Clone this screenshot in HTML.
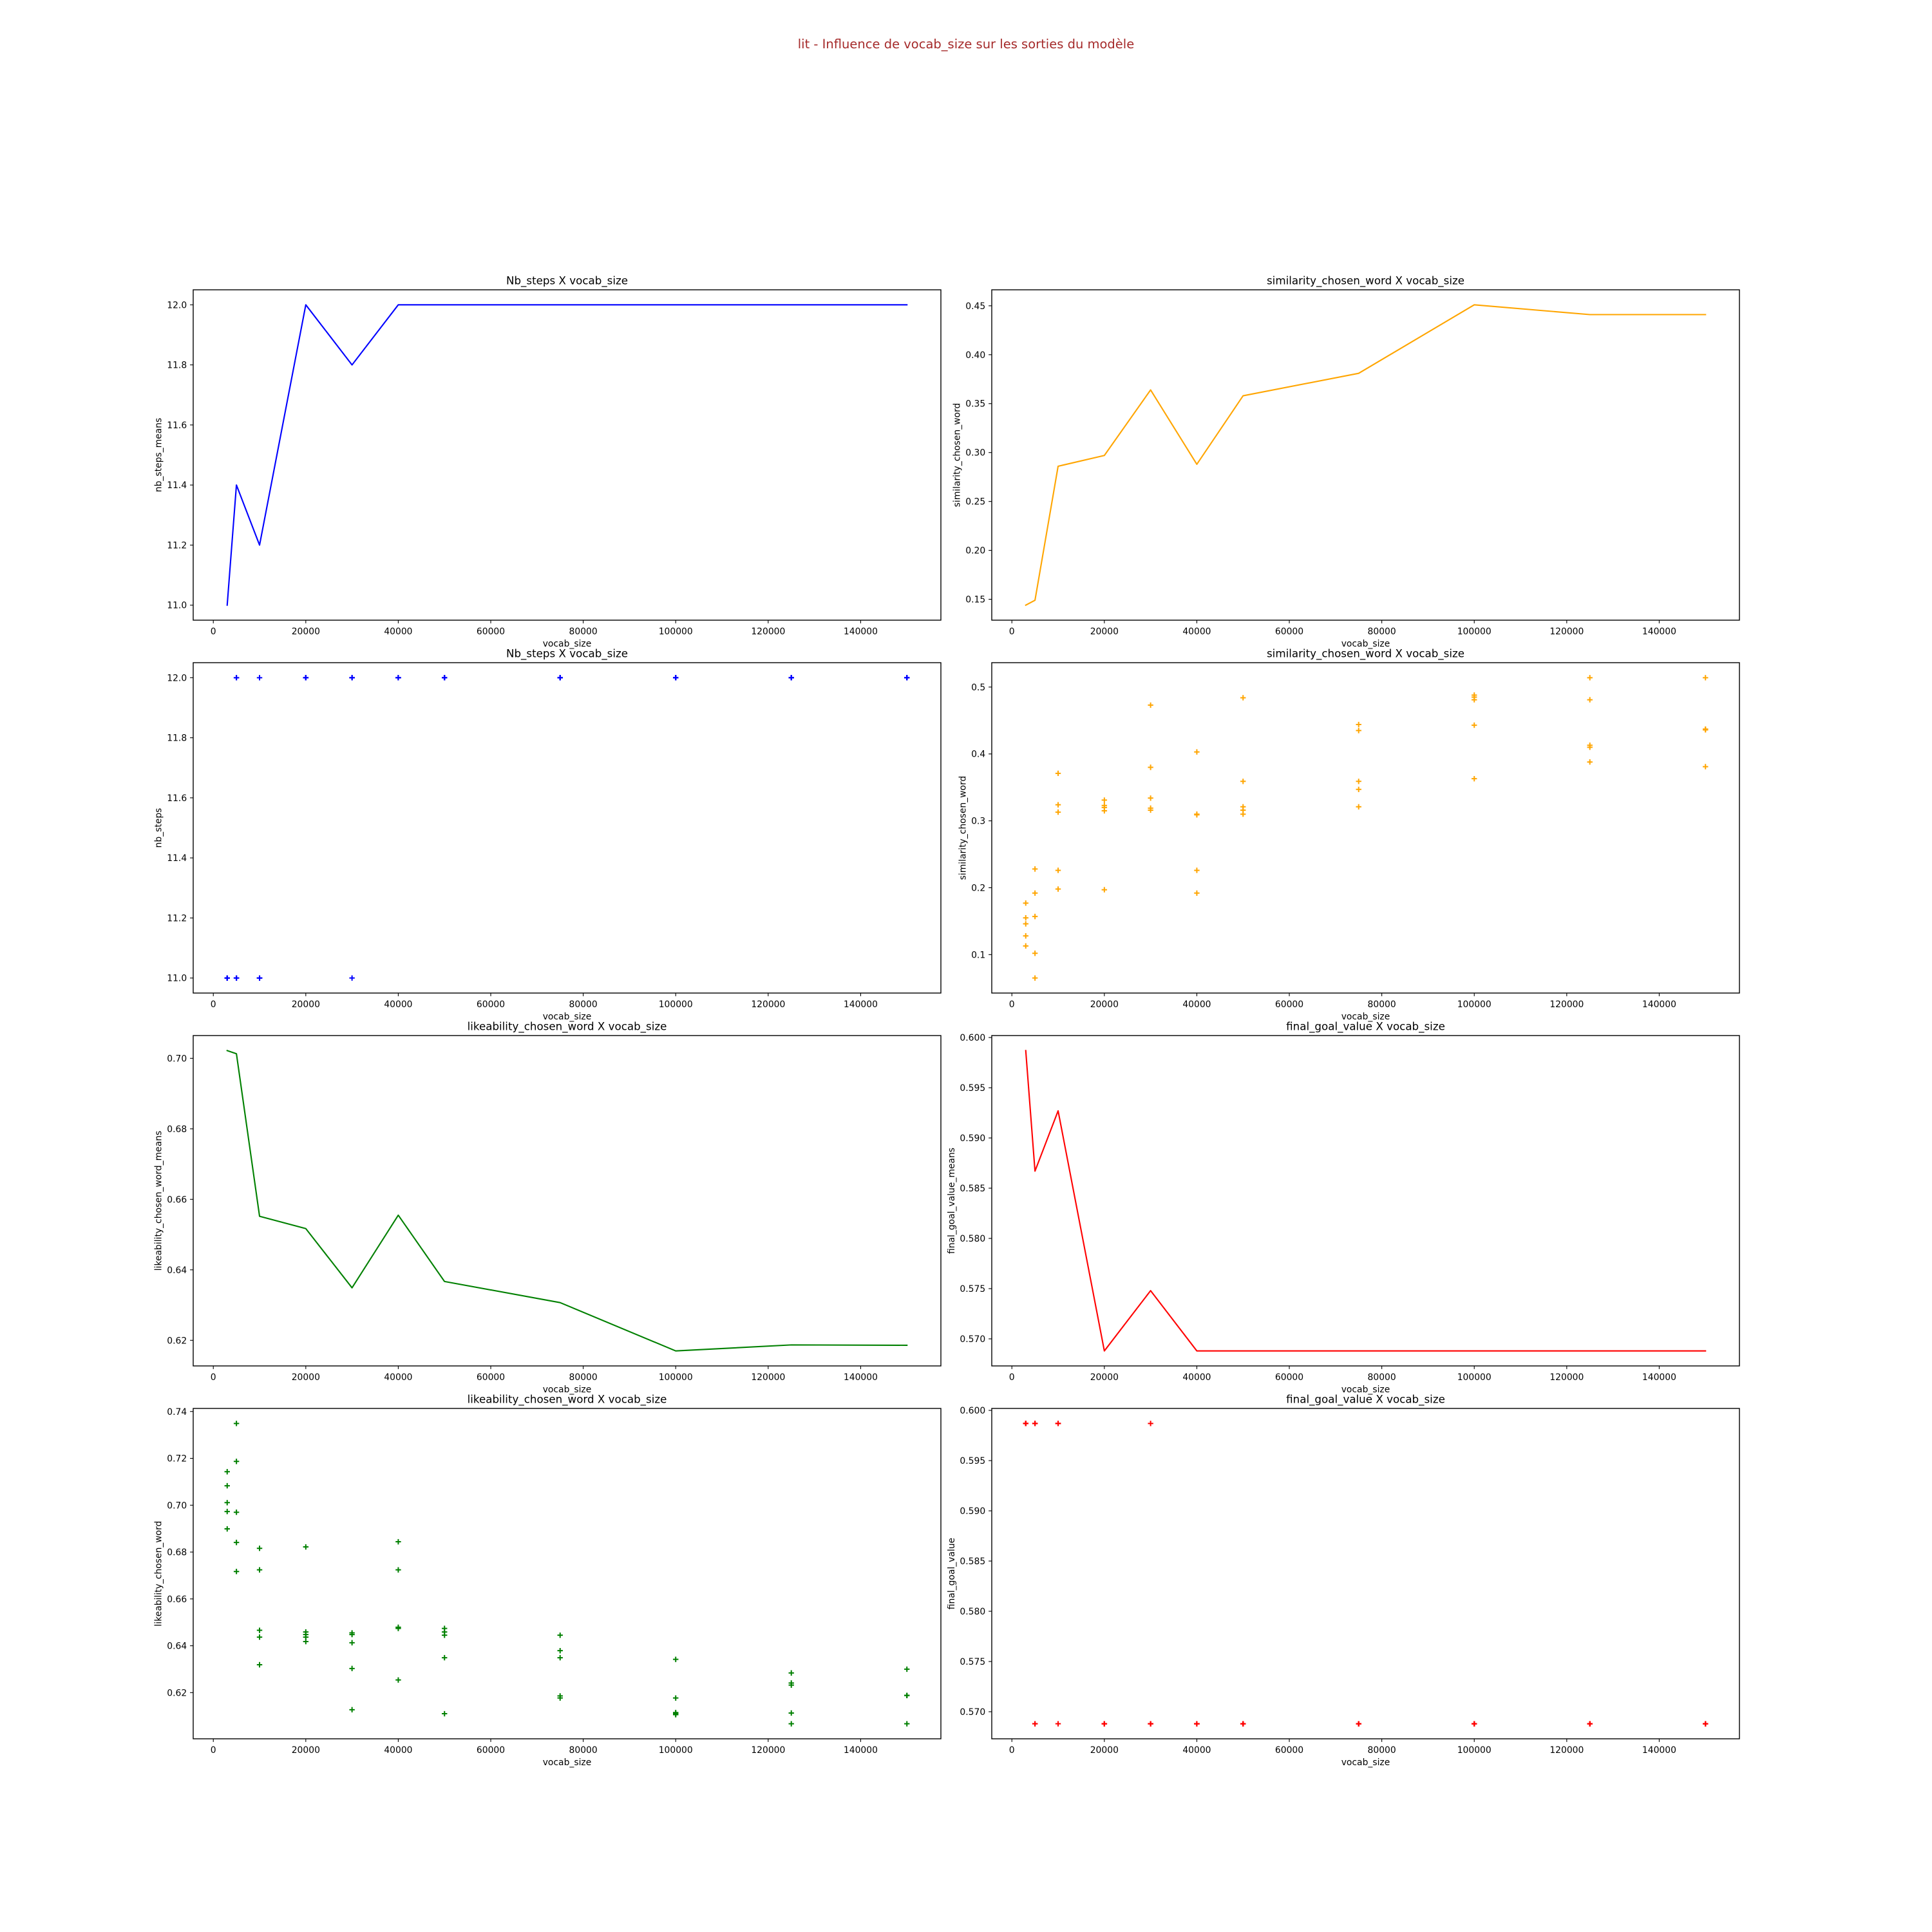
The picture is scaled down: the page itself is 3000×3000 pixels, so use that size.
<!DOCTYPE html>
<html><head><meta charset="utf-8"><style>
html,body{margin:0;padding:0;background:#fff;}
svg{display:block;font-family:"DejaVu Sans","Liberation Sans",sans-serif;}
</style></head><body>
<svg id="fig" width="3000" height="3000" viewBox="0 0 3000 3000" xmlns="http://www.w3.org/2000/svg">
<rect width="3000" height="3000" fill="#fff"/>
<text x="1500" y="75" text-anchor="middle" font-size="19.5" fill="#a52a2a">lit - Influence de vocab_size sur les sorties du modèle</text>
</svg>
<script>
const vocabSizes=[3000,5000,10000,20000,30000,40000,50000,75000,100000,125000,150000];
const xTicks=[0,20000,40000,60000,80000,100000,120000,140000];
const nbStepsMeans=[11.0,11.4,11.2,12.0,11.8,12.0,12.0,12.0,12.0,12.0,12.0];
const similarityMeans=[0.144,0.149,0.286,0.297,0.364,0.288,0.358,0.381,0.451,0.441,0.441];
const likeabilityMeans=[0.7022,0.7013,0.6552,0.6517,0.6349,0.6555,0.6367,0.6307,0.6170,0.6187,0.6186];
const finalGoalMeans=[0.5987,0.5867,0.5927,0.5688,0.5748,0.5688,0.5688,0.5688,0.5688,0.5688,0.5688];
const nbStepsRuns=[[11,11,11,11,11],[11,11,11,12,12],[11,11,11,11,12],[12,12,12,12,12],[11,12,12,12,12],[12,12,12,12,12],[12,12,12,12,12],[12,12,12,12,12],[12,12,12,12,12],[12,12,12,12,12],[12,12,12,12,12]];
const similarityRuns=[[0.177,0.155,0.146,0.128,0.113],[0.228,0.192,0.157,0.102,0.065],[0.371,0.324,0.313,0.226,0.198],[0.331,0.323,0.320,0.315,0.197],[0.473,0.380,0.334,0.319,0.316],[0.403,0.310,0.309,0.226,0.192],[0.484,0.359,0.321,0.316,0.310],[0.444,0.435,0.359,0.347,0.321],[0.488,0.485,0.481,0.443,0.363],[0.514,0.481,0.413,0.410,0.388],[0.514,0.437,0.437,0.436,0.381]];
const likeabilityRuns=[[0.7143,0.7083,0.7011,0.6973,0.6899],[0.7349,0.7187,0.6970,0.6841,0.6717],[0.6816,0.6724,0.6466,0.6437,0.6319],[0.6822,0.6459,0.6448,0.6437,0.6418],[0.6455,0.6448,0.6413,0.6303,0.6127],[0.6844,0.6724,0.6479,0.6474,0.6254],[0.6474,0.6459,0.6445,0.6349,0.6110],[0.6445,0.6379,0.6349,0.6186,0.6177],[0.6342,0.6177,0.6115,0.6110,0.6106],[0.6284,0.6241,0.6232,0.6113,0.6067],[0.6300,0.6188,0.6188,0.6188,0.6067]];
const finalGoalRuns=[[0.5987,0.5987,0.5987,0.5987,0.5987],[0.5987,0.5987,0.5987,0.5688,0.5688],[0.5987,0.5987,0.5987,0.5987,0.5688],[0.5688,0.5688,0.5688,0.5688,0.5688],[0.5987,0.5688,0.5688,0.5688,0.5688],[0.5688,0.5688,0.5688,0.5688,0.5688],[0.5688,0.5688,0.5688,0.5688,0.5688],[0.5688,0.5688,0.5688,0.5688,0.5688],[0.5688,0.5688,0.5688,0.5688,0.5688],[0.5688,0.5688,0.5688,0.5688,0.5688],[0.5688,0.5688,0.5688,0.5688,0.5688]];
const nbTicks=["11.0","11.2","11.4","11.6","11.8","12.0"];
const simLineTicks=["0.15","0.20","0.25","0.30","0.35","0.40","0.45"];
const simScatTicks=["0.1","0.2","0.3","0.4","0.5"];
const likLineTicks=["0.62","0.64","0.66","0.68","0.70"];
const likScatTicks=["0.62","0.64","0.66","0.68","0.70","0.72","0.74"];
const finalTicks=["0.570","0.575","0.580","0.585","0.590","0.595","0.600"];

const NS="http://www.w3.org/2000/svg";
const svg=document.getElementById('fig');
function mk(tag,attrs,parent){const e=document.createElementNS(NS,tag);for(const k in attrs)e.setAttribute(k,attrs[k]);(parent||svg).appendChild(e);return e;}
const COLX=[300,1540], ROWY=[450,1029,1608,2187], W=1161, H=513;
const charts=[
 {name:'nb-steps-means',col:0,row:0,title:'Nb_steps X vocab_size',ylabel:'nb_steps_means',color:'#0000ff',type:'line',vals:nbStepsMeans,ticks:nbTicks},
 {name:'similarity-means',col:1,row:0,title:'similarity_chosen_word X vocab_size',ylabel:'similarity_chosen_word',color:'#ffa500',type:'line',vals:similarityMeans,ticks:simLineTicks},
 {name:'nb-steps-runs',col:0,row:1,title:'Nb_steps X vocab_size',ylabel:'nb_steps',color:'#0000ff',type:'scatter',vals:nbStepsRuns,ticks:nbTicks},
 {name:'similarity-runs',col:1,row:1,title:'similarity_chosen_word X vocab_size',ylabel:'similarity_chosen_word',color:'#ffa500',type:'scatter',vals:similarityRuns,ticks:simScatTicks},
 {name:'likeability-means',col:0,row:2,title:'likeability_chosen_word X vocab_size',ylabel:'likeability_chosen_word_means',color:'#008000',type:'line',vals:likeabilityMeans,ticks:likLineTicks},
 {name:'final-goal-means',col:1,row:2,title:'final_goal_value X vocab_size',ylabel:'final_goal_value_means',color:'#ff0000',type:'line',vals:finalGoalMeans,ticks:finalTicks},
 {name:'likeability-runs',col:0,row:3,title:'likeability_chosen_word X vocab_size',ylabel:'likeability_chosen_word',color:'#008000',type:'scatter',vals:likeabilityRuns,ticks:likScatTicks},
 {name:'final-goal-runs',col:1,row:3,title:'final_goal_value X vocab_size',ylabel:'final_goal_value',color:'#ff0000',type:'scatter',vals:finalGoalRuns,ticks:finalTicks}
];
function textW(s){let w=0;for(const c of s)w+=(c==='.')?4.42:8.85;return w;}
charts.forEach(c=>{
 const L=COLX[c.col], T=ROWY[c.row];
 const g=mk('g',{});
 
 
 const xmin0=Math.min(...vocabSizes), xmax0=Math.max(...vocabSizes), xr=xmax0-xmin0;
 const x0=xmin0-0.05*xr, x1=xmax0+0.05*xr;
 let ys=[]; if(c.type==='line') ys=c.vals; else c.vals.forEach(a=>ys=ys.concat(a));
 const ymn=Math.min(...ys), ymx=Math.max(...ys), yr=ymx-ymn;
 const y0=ymn-0.05*yr, y1=ymx+0.05*yr;
 const sx=v=>L+(v-x0)/(x1-x0)*W;
 const sy=v=>T+H-(v-y0)/(y1-y0)*H;
 if(c.type==='line'){
  const pts=vocabSizes.map((x,i)=>sx(x).toFixed(2)+','+sy(c.vals[i]).toFixed(2)).join(' ');
  const pl=mk('polyline',{points:pts,fill:'none',stroke:c.color,'stroke-width':2.1,'stroke-linejoin':'round','stroke-linecap':'square'},g);
  
  
 } else {
  vocabSizes.forEach((x,i)=>{c.vals[i].forEach(v=>{
   const px=sx(x), py=sy(v), r=4.2;
   const p=mk('path',{d:`M${px-r},${py}H${px+r}M${px},${py-r}V${py+r}`,stroke:c.color,'stroke-width':2,fill:'none'},g);
   
   
  });});
 }
 const fr=mk('rect',{x:L,y:T,width:W,height:H,fill:'none',stroke:'#000','stroke-width':1.4},g);
 
 
 xTicks.forEach(t=>{
  const px=sx(t);
  const tl=mk('line',{x1:px,x2:px,y1:T+H,y2:T+H+4.9,stroke:'#000','stroke-width':1.1},g);
  
  
  const tx=mk('text',{x:px,y:T+H+22,'text-anchor':'middle','font-size':13.9,fill:'#000'},g);
  tx.textContent=String(t);
  
  
 });
 let maxw=0;
 c.ticks.forEach(s=>{
  const v=parseFloat(s), py=sy(v);
  maxw=Math.max(maxw,textW(s));
  const tl=mk('line',{x1:L-4.9,x2:L,y1:py,y2:py,stroke:'#000','stroke-width':1.1},g);
  
  
  const tx=mk('text',{x:L-9.8,y:py+5,'text-anchor':'end','font-size':13.9,fill:'#000'},g);
  tx.textContent=s;
  
  
 });
 const xl=mk('text',{x:L+W/2,y:T+H+41,'text-anchor':'middle','font-size':13.9,fill:'#000'},g);
 xl.textContent='vocab_size';
 
 
 const yx=L-9.8-maxw-5.6-3, yy=T+H/2;
 const yl=mk('text',{x:yx,y:yy,'text-anchor':'middle','font-size':13.9,fill:'#000',transform:`rotate(-90 ${yx} ${yy})`},g);
 yl.textContent=c.ylabel;
 
 
 const tt=mk('text',{x:L+W/2,y:T-8.5,'text-anchor':'middle','font-size':16.7,fill:'#000'},g);
 tt.textContent=c.title;
 
 
});
</script>
</body></html>
